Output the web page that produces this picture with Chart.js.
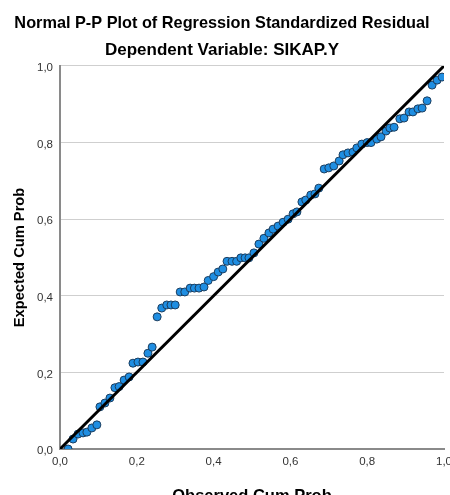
<!DOCTYPE html>
<html>
<head>
<meta charset="utf-8">
<script src="https://cdn.jsdelivr.net/npm/chart.js@4"></script>
<style>
  html, body { margin: 0; padding: 0; background: #fff; overflow: hidden; }
  #wrap { width: 460px; height: 510px; }
</style>
</head>
<body>
<div id="wrap"><canvas id="ppPlot" width="460" height="510"></canvas></div>
<script>
// observed vs expected cumulative probabilities
const observed = [0.021, 0.034, 0.047, 0.06, 0.07, 0.083, 0.096, 0.104, 0.117, 0.13,
  0.143, 0.154, 0.167, 0.18, 0.19, 0.203, 0.216, 0.229, 0.24, 0.253,
  0.265, 0.278, 0.289, 0.3, 0.313, 0.325, 0.339, 0.35, 0.362, 0.375,
  0.386, 0.4, 0.412, 0.424, 0.435, 0.448, 0.46, 0.471, 0.482, 0.492,
  0.505, 0.518, 0.531, 0.544, 0.555, 0.568, 0.581, 0.594, 0.607, 0.617,
  0.63, 0.64, 0.653, 0.664, 0.674, 0.688, 0.7, 0.713, 0.727, 0.737,
  0.75, 0.763, 0.773, 0.786, 0.8, 0.81, 0.825, 0.836, 0.849, 0.859,
  0.87, 0.885, 0.896, 0.909, 0.919, 0.932, 0.943, 0.956, 0.969, 0.982, 0.995];
const expected = [0.0, 0.026, 0.039, 0.042, 0.044, 0.055, 0.063, 0.11, 0.12, 0.133,
  0.16, 0.163, 0.18, 0.188, 0.224, 0.227, 0.227, 0.25, 0.266, 0.345,
  0.368, 0.376, 0.376, 0.376, 0.41, 0.41, 0.42, 0.42, 0.42, 0.423,
  0.44, 0.45, 0.462, 0.47, 0.49, 0.49, 0.49, 0.499, 0.499, 0.499,
  0.512, 0.535, 0.55, 0.564, 0.574, 0.582, 0.592, 0.6, 0.614, 0.619,
  0.645, 0.65, 0.663, 0.666, 0.681, 0.731, 0.734, 0.739, 0.752, 0.768,
  0.773, 0.775, 0.786, 0.796, 0.8, 0.8, 0.809, 0.815, 0.83, 0.838,
  0.84, 0.862, 0.864, 0.88, 0.88, 0.888, 0.89, 0.909, 0.95, 0.963, 0.971];
const refLine = [0, 1];
const tickValues = [0, 0.2, 0.4, 0.6, 0.8, 1.0];

const FONT = "'Liberation Sans', Arial, sans-serif";
const fmt = v => Number(v).toFixed(1).replace('.', ',');

new Chart(document.getElementById('ppPlot'), {
  type: 'scatter',
  data: {
    datasets: [
      {
        type: 'line',
        data: refLine.map(v => ({ x: v, y: v })),
        borderColor: '#000',
        borderWidth: 3,
        pointRadius: 0,
        fill: false,
        order: 0
      },
      {
        data: observed.map((x, i) => ({ x: x, y: expected[i] })),
        backgroundColor: '#1f8ee2',
        borderColor: '#1b3d5e',
        borderWidth: 1,
        pointRadius: 4,
        order: 1
      }
    ]
  },
  options: {
    responsive: false,
    animation: false,
    layout: { padding: { left: 0, right: 16, top: 0, bottom: 0 } },
    plugins: {
      legend: { display: false },
      tooltip: { enabled: false },
      title: {
        display: true,
        text: 'Normal P-P Plot of Regression Standardized Residual',
        color: '#000',
        font: { family: FONT, size: 16.3, weight: 'bold', lineHeight: 1.2 },
        padding: { top: 13.5, bottom: 7 }
      },
      subtitle: {
        display: true,
        text: 'Dependent Variable: SIKAP.Y',
        color: '#000',
        font: { family: FONT, size: 17, weight: 'bold', lineHeight: 1.2 },
        padding: { top: 0, bottom: 5.5 }
      }
    },
    scales: {
      x: {
        type: 'linear',
        min: 0,
        max: 1,
        afterFit: s => { s.height = 61; },
        afterBuildTicks: s => { s.ticks = tickValues.map(v => ({ value: v })); },
        ticks: {
          callback: fmt,
          color: '#333',
          font: { family: FONT, size: 11.5 },
          padding: 6,
          maxRotation: 0
        },
        grid: { display: false, drawTicks: false },
        border: { display: true, color: '#8a8a8a', width: 2 },
        title: {
          display: true,
          text: 'Observed Cum Prob',
          color: '#000',
          font: { family: FONT, size: 16.5, weight: 'bold', lineHeight: 1.2 },
          padding: { top: 0, bottom: 4 }
        }
      },
      y: {
        type: 'linear',
        min: 0,
        max: 1,
        afterFit: s => { s.width = 60; },
        afterBuildTicks: s => { s.ticks = tickValues.map(v => ({ value: v })); },
        ticks: {
          callback: fmt,
          color: '#333',
          font: { family: FONT, size: 11.5 },
          padding: 7,
          labelOffset: 2
        },
        grid: { color: '#cfcfcf', lineWidth: 1, drawTicks: false },
        border: { display: true, color: '#8a8a8a', width: 2 },
        title: {
          display: true,
          text: 'Expected Cum Prob',
          color: '#000',
          font: { family: FONT, size: 14.7, weight: 'bold', lineHeight: 1.2 },
          padding: { top: 11.2, bottom: 0 }
        }
      }
    }
  }
});
</script>
</body>
</html>
